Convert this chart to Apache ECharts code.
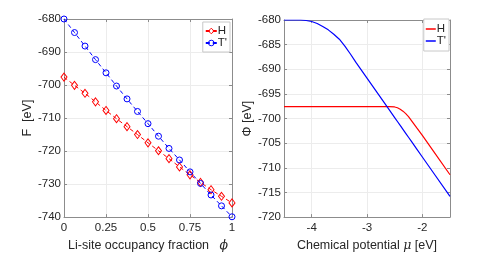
<!DOCTYPE html>
<html><head><meta charset="utf-8">
<script src="https://cdn.jsdelivr.net/npm/echarts@6/dist/echarts.min.js"></script>
<style>html,body{margin:0;padding:0;background:#fff}#c{width:498px;height:257px}</style>
</head><body><div id="c"></div>
<script>
// Left panel: free energy vs Li-site occupancy fraction
const phi = [0, 0.0625, 0.125, 0.1875, 0.25, 0.3125, 0.375, 0.4375, 0.5, 0.5625, 0.625, 0.6875, 0.75, 0.8125, 0.875, 0.9375, 1];
const F_H = [-697.6, -700.1, -702.5, -705.1, -707.7, -710.2, -712.6, -715.0, -717.5, -719.9, -722.3, -724.8, -727.2, -729.5, -731.7, -733.7, -735.7];
const F_T = [-680.0, -684.1, -688.2, -692.3, -696.3, -700.3, -704.2, -708.0, -711.7, -715.5, -719.2, -722.7, -726.3, -729.8, -733.3, -736.6, -739.9];
// Right panel: grand potential vs chemical potential
const mu = [-4.5, -4.4, -4.3, -4.2, -4.1, -4.0, -3.9, -3.8, -3.7, -3.6, -3.5, -3.4, -3.3, -3.2, -3.0, -2.8, -2.6, -2.5, -2.45, -2.4, -2.35, -2.3, -2.25, -2.2, -2.1, -2.0, -1.8, -1.5];
const Phi_H = [-697.6, -697.6, -697.6, -697.6, -697.6, -697.6, -697.6, -697.6, -697.6, -697.6, -697.6, -697.6, -697.6, -697.6, -697.6, -697.6, -697.6, -697.65, -697.8, -698.1, -698.5, -699.0, -699.6, -700.35, -701.9, -703.4, -706.6, -711.4];
const Phi_T = [-680.0, -680.0, -680.0, -680.0, -680.1, -680.3, -680.7, -681.3, -682.0, -682.9, -683.9, -685.3, -686.9, -688.6, -691.8, -695.0, -698.2, -699.8, -700.6, -701.4, -702.2, -703.0, -703.8, -704.6, -706.2, -707.8, -711.0, -715.8];
const leftXTicks = [0, 0.25, 0.5, 0.75, 1];
const rightXTicks = [-4, -3, -2];
const names = ['H', "T'"];

const zip = (a, b) => a.map((v, i) => [v, b[i]]);
const axisCol = '#8c8c8c';
const txtCol = '#262626';
const font = 'Liberation Sans, Arial, sans-serif';
const lbl = {color: txtCol, fontSize: 11.5, fontFamily: font};
const split = {show: true, lineStyle: {color: '#ececec', width: 1}};

function xAx(grid, min, max, ticks, name) {
  return [{
    type: 'value', gridIndex: grid, min: min, max: max,
    axisLine: {show: true, onZero: false, lineStyle: {color: axisCol}},
    axisTick: {show: true, inside: true, length: 3, customValues: ticks, lineStyle: {color: axisCol}},
    axisLabel: Object.assign({margin: 5, customValues: ticks, formatter: v => String(v)}, lbl),
    splitLine: split,
    name: name, nameLocation: 'middle', nameGap: 18,
    nameTextStyle: {color: txtCol, fontSize: 12.5, fontFamily: font,
      rich: {i: {fontStyle: 'italic', fontSize: 12.5, fontFamily: 'DejaVu Serif', color: txtCol}}}
  }, {
    type: 'value', gridIndex: grid, position: 'top', min: min, max: max,
    axisLine: {show: true, onZero: false, lineStyle: {color: axisCol}},
    axisTick: {show: true, inside: true, length: 3, customValues: ticks, lineStyle: {color: axisCol}},
    axisLabel: {show: false}, splitLine: {show: false}
  }];
}
function yAx(grid, min, max, interval, name, gap) {
  return [{
    type: 'value', gridIndex: grid, min: min, max: max, interval: interval,
    axisLine: {show: true, onZero: false, lineStyle: {color: axisCol}},
    axisTick: {show: true, inside: true, length: 3, lineStyle: {color: axisCol}},
    axisLabel: Object.assign({margin: 3}, lbl),
    splitLine: split,
    name: name, nameLocation: 'middle', nameGap: gap, nameRotate: 90,
    nameTextStyle: {color: txtCol, fontSize: 12.5, fontFamily: font}
  }, {
    type: 'value', gridIndex: grid, position: 'right', min: min, max: max, interval: interval,
    axisLine: {show: true, onZero: false, lineStyle: {color: axisCol}},
    axisTick: {show: true, inside: true, length: 3, lineStyle: {color: axisCol}},
    axisLabel: {show: false}, splitLine: {show: false}
  }];
}

const legendBase = {
  orient: 'vertical', backgroundColor: '#fff', borderColor: '#c8c8c8', borderWidth: 1,
  padding: [3, 3, 3, 2], itemGap: 0, itemWidth: 11, itemHeight: 7, selectedMode: false,
  textStyle: {color: txtCol, fontSize: 11.5, fontFamily: font, padding: [0, 0, 0, -4]}
};
const tr = 'rgba(255,255,255,0)';

const chart = echarts.init(document.getElementById('c'), null, {renderer: 'canvas'});
chart.setOption({
  animation: false,
  backgroundColor: '#fff',
  grid: [
    {left: 64, right: 266, top: 19, bottom: 32},
    {left: 284, right: 48, top: 20, bottom: 32}
  ],
  xAxis: [].concat(
    xAx(0, 0, 1, leftXTicks, 'Li-site occupancy fraction   {i|ϕ}'),
    xAx(1, -4.5, -1.5, rightXTicks, 'Chemical potential {i|μ} [eV]')
  ),
  yAxis: [].concat(
    yAx(0, -740, -680, 10, 'F  [eV]', 27),
    yAx(1, -720, -680, 5, 'Φ [eV]', 25)
  ),
  legend: [
    Object.assign({}, legendBase, {
      data: [
        {name: names[0], itemStyle: {color: tr, borderColor: '#ff0000', borderWidth: 1}},
        {name: names[1], itemStyle: {color: tr, borderColor: '#0000ff', borderWidth: 1}}
      ],
      right: 268, top: 22}),
    Object.assign({}, legendBase, {
      data: [{name: 'H2', icon: 'rect'}, {name: "T'2", icon: 'rect'}],
      itemHeight: 1.5, itemWidth: 10, padding: [4, 3, 4, 2],
      right: 49, top: 19, formatter: n => n.replace(/2$/, '')})
  ],
  series: [
    {name: names[0], type: 'line', xAxisIndex: 0, yAxisIndex: 0, data: zip(phi, F_H),
     symbol: 'diamond', symbolSize: [6, 8],
     lineStyle: {color: '#ff0000', width: 1, type: [4, 3]},
     itemStyle: {color: tr, borderColor: '#ff0000', borderWidth: 1}},
    {name: names[1], type: 'line', xAxisIndex: 0, yAxisIndex: 0, data: zip(phi, F_T),
     symbol: 'circle', symbolSize: 6,
     lineStyle: {color: '#0000ff', width: 1, type: [4, 3]},
     itemStyle: {color: tr, borderColor: '#0000ff', borderWidth: 1}},
    {name: 'H2', type: 'line', xAxisIndex: 2, yAxisIndex: 2, data: zip(mu, Phi_H),
     showSymbol: false, symbol: 'none',
     lineStyle: {color: '#ff0000', width: 1.2}, itemStyle: {color: '#ff0000'}},
    {name: "T'2", type: 'line', xAxisIndex: 2, yAxisIndex: 2, data: zip(mu, Phi_T),
     showSymbol: false, symbol: 'none',
     lineStyle: {color: '#0000ff', width: 1.2}, itemStyle: {color: '#0000ff'}}
  ]
});
</script>
</body></html>
